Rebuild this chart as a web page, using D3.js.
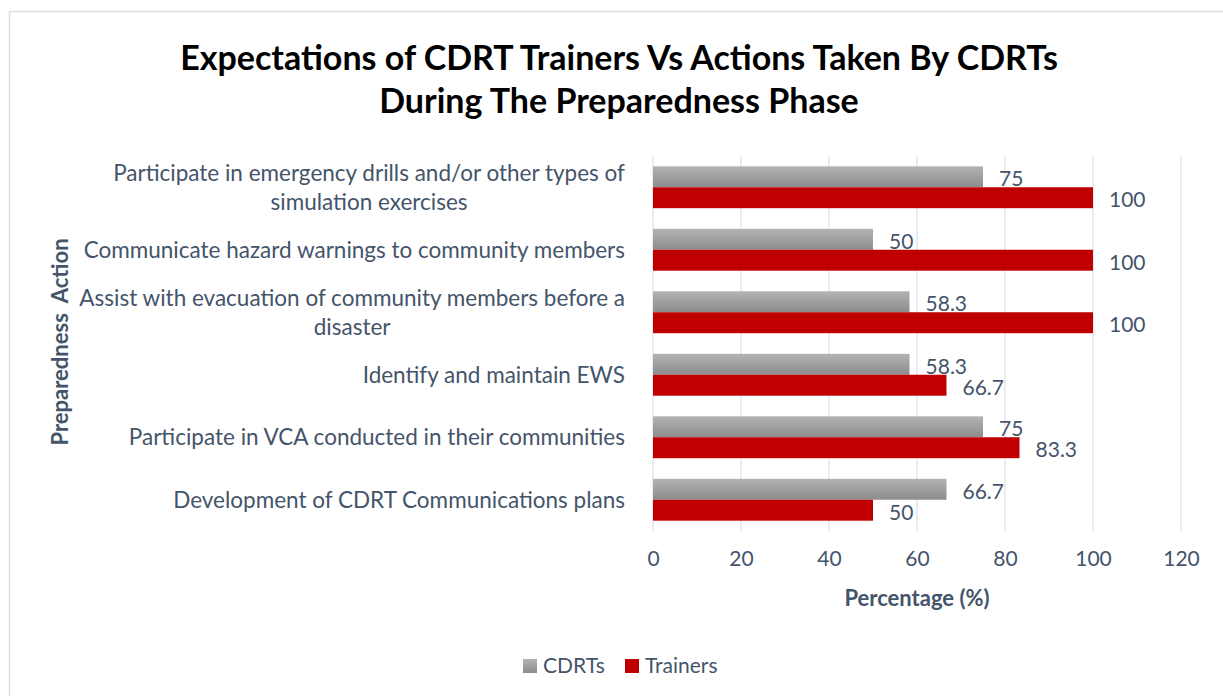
<!DOCTYPE html>
<html>
<head>
<meta charset="utf-8">
<script src="https://cdn.jsdelivr.net/npm/d3@7"></script>
<style>
  html, body { margin: 0; padding: 0; background: #fff; }
  svg { display: block; }
  text { font-family: Lato, "Open Sans", sans-serif; }
</style>
</head>
<body>
<svg id="chart" width="1223" height="696"></svg>
<script>
const categories = [
  ["Participate in emergency drills and/or other types of", "simulation exercises"],
  ["Communicate hazard warnings to community members"],
  ["Assist with evacuation of community members before a", "disaster"],
  ["Identify and maintain EWS"],
  ["Participate in VCA conducted in their communities"],
  ["Development of CDRT Communications plans"]
];
const cdrts    = [75, 50, 58.3, 58.3, 75, 66.7];
const trainers = [100, 100, 100, 66.7, 83.3, 50];
const seriesNames = ["CDRTs", "Trainers"];
const xTicks = [0, 20, 40, 60, 80, 100, 120];
const titleLines = ["Expectations of CDRT Trainers Vs Actions Taken By CDRTs", "During The Preparedness Phase"];

const textColor = "#44546a";
const svg = d3.select("#chart");

const defs = svg.append("defs");
const grad = defs.append("linearGradient").attr("id", "grayGrad")
  .attr("x1", 0).attr("y1", 0).attr("x2", 0).attr("y2", 1);
grad.append("stop").attr("offset", "0%").attr("stop-color", "#b3b3b3");
grad.append("stop").attr("offset", "100%").attr("stop-color", "#8c8c8c");

// border
svg.append("rect").attr("x", 9.5).attr("y", 11.5).attr("width", 1230).attr("height", 700)
  .attr("fill", "none").attr("stroke", "#d9dee8").attr("stroke-width", 1.5);

// title
svg.append("g").selectAll("text").data(titleLines).join("text")
  .attr("x", 619).attr("y", (d, i) => 70 + i * 43)
  .attr("text-anchor", "middle").attr("font-weight", "bold")
  .attr("font-size", 34).attr("fill", "#000").text(d => d);

const x = d3.scaleLinear().domain([0, 120]).range([653, 1181]);
const y = d3.scaleBand().domain(d3.range(categories.length)).range([156, 531]).paddingInner(0.33).paddingOuter(0.165);
const sub = d3.scaleBand().domain([0, 1]).range([0, y.bandwidth()]);

// gridlines
svg.append("g").selectAll("line").data(xTicks).join("line")
  .attr("x1", d => x(d)).attr("x2", d => x(d)).attr("y1", 156).attr("y2", 531)
  .attr("stroke", "#dde3ec").attr("stroke-width", 1.3);

// x axis
const xAxis = d3.axisBottom(x).tickValues(xTicks).tickSize(0).tickPadding(0);
const gx = svg.append("g").attr("transform", "translate(0,551)").call(xAxis);
gx.select(".domain").remove();
gx.selectAll("text").attr("font-size", 21).attr("fill", textColor)
  .attr("font-family", "Lato, sans-serif").attr("dy", "0.71em");

// bars
const groups = svg.append("g").selectAll("g").data(categories.map((c, i) => i)).join("g")
  .attr("transform", i => `translate(0,${y(i)})`);
groups.append("rect").attr("x", x(0)).attr("y", sub(0))
  .attr("width", i => x(cdrts[i]) - x(0)).attr("height", sub.bandwidth())
  .attr("fill", "url(#grayGrad)");
groups.append("rect").attr("x", x(0)).attr("y", sub(1))
  .attr("width", i => x(trainers[i]) - x(0)).attr("height", sub.bandwidth())
  .attr("fill", "#c00000");
groups.append("text").attr("x", i => x(cdrts[i]) + 16).attr("y", sub(0) + sub.bandwidth() / 2 + 2)
  .attr("dy", "0.35em").attr("font-size", 21).attr("fill", textColor).text(i => cdrts[i]);
groups.append("text").attr("x", i => x(trainers[i]) + 16).attr("y", sub(1) + sub.bandwidth() / 2 + 2)
  .attr("dy", "0.35em").attr("font-size", 21).attr("fill", textColor).text(i => trainers[i]);

// category labels
const labelRight = 625;
const lineH = 29;
categories.forEach((lines, i) => {
  const cy = y(i) + y.bandwidth() / 2;
  const g = svg.append("g");
  const t = g.selectAll("text").data(lines).join("text")
    .attr("font-size", 22.5).attr("fill", textColor)
    .attr("y", (d, j) => cy + (j - (lines.length - 1) / 2) * lineH)
    .attr("dy", "0.35em").text(d => d);
  const widths = [];
  t.each(function () { widths.push(this.getComputedTextLength()); });
  const maxW = d3.max(widths);
  const center = labelRight - maxW / 2;
  t.attr("x", center).attr("text-anchor", "middle");
});

// axis titles
svg.append("text").attr("x", 917).attr("y", 606).attr("text-anchor", "middle")
  .attr("font-weight", "bold").attr("font-size", 22).attr("fill", textColor).text("Percentage (%)");
svg.append("text").attr("transform", "translate(68,342) rotate(-90)").attr("text-anchor", "middle")
  .attr("font-weight", "bold").attr("font-size", 22).attr("fill", textColor)
  .attr("xml:space", "preserve").style("white-space", "pre").text("Preparedness  Action");

// legend
const legend = svg.append("g");
const legendItems = [
  { name: seriesNames[0], fill: "url(#grayGrad)", x: 523 },
  { name: seriesNames[1], fill: "#c00000", x: 625 }
];
legendItems.forEach(it => {
  legend.append("rect").attr("x", it.x).attr("y", 659).attr("width", 14).attr("height", 14).attr("fill", it.fill);
  legend.append("text").attr("x", it.x + 20).attr("y", 666).attr("dy", "0.35em")
    .attr("font-size", 21).attr("fill", textColor).text(it.name);
});
</script>
</body>
</html>
